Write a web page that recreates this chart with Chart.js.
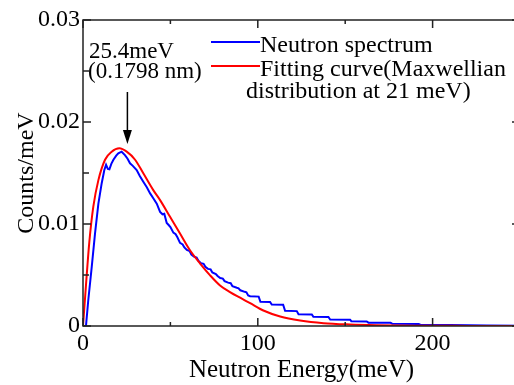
<!DOCTYPE html>
<html>
<head>
<meta charset="utf-8">
<script src="https://cdn.jsdelivr.net/npm/chart.js@4"></script>
<style>
  html, body { margin: 0; padding: 0; background: #fff; overflow: hidden; }
  #wrap { width: 523px; height: 385px; }
  #warm { position: absolute; left: -999px; top: 0; font: 24px "Liberation Serif"; }
</style>
</head>
<body>
<div id="warm">Neutron 0.01</div>
<div id="wrap"><canvas id="chart" width="523" height="385"></canvas></div>
<script>
// Neutron spectrum (energy in meV, counts/meV)
const spectrumE = [0, 1.7, 3, 5, 6.9, 8.8, 10.7, 12.2, 13.2, 14.2, 15.1, 16.2, 17.4, 19, 20.2, 22.1, 24, 25.5,
  26.9, 28.5, 30.7, 32.5, 34.5, 36.5, 38.4, 40.3, 42.2, 44.1, 45.5, 46.5, 47.9, 49, 50, 51.7, 53, 54, 55.5,
  57, 58, 59.4, 61, 62, 63.5, 65, 66, 67.5, 69, 70, 71.5, 73, 74, 76, 77, 78.5, 80, 81, 83, 84.5, 85.5, 88,
  89, 90, 92.5, 93.5, 94.5, 95.6, 100.5, 101.5, 107, 108, 114.5, 115.6, 122.3, 123.3, 130.9, 131.8, 140.4,
  141.4, 152.8, 153.5, 162.3, 163.3, 176, 177, 192, 193, 210, 231, 250];
const spectrumCounts = [0, 0, 0.0025, 0.0058, 0.0091, 0.0120, 0.0140, 0.0153, 0.0158, 0.0154, 0.01536, 0.0159,
  0.0163, 0.0167, 0.01693, 0.01709, 0.01676, 0.0164, 0.01595, 0.0157, 0.01529, 0.0147, 0.01414, 0.0136,
  0.0130, 0.0125, 0.0120, 0.01119, 0.01095, 0.0110, 0.0101, 0.0099, 0.0097, 0.00915, 0.0090, 0.0087, 0.00815,
  0.0080, 0.0077, 0.00745, 0.00735, 0.0070, 0.0068, 0.0067, 0.0064, 0.00615, 0.0061, 0.0058, 0.0056, 0.00555,
  0.00525, 0.0051, 0.0049, 0.0047, 0.00465, 0.0044, 0.00425, 0.0042, 0.0039, 0.00375, 0.0037, 0.0035, 0.00335,
  0.0033, 0.0030, 0.00292, 0.00288, 0.00238, 0.00236, 0.0021, 0.00208, 0.0015, 0.00146, 0.00116, 0.00113,
  0.0009, 0.00088, 0.00064, 0.00062, 0.00047, 0.00045, 0.00033, 0.00031, 0.00021, 0.0002, 0.00012, 0.00009,
  0.00006, 0.00003];

// Maxwellian fitting curve
const fitE = [0, 1.7, 3.6, 5.9, 8.8, 12.6, 16.4, 20.8, 25, 29.8, 34.5, 40.2, 44.1, 49.8, 55.5, 61.2, 67,
  72.7, 78.4, 84.1, 89.9, 95.6, 103.2, 112.8, 124.2, 137.6, 152.8, 168, 190, 220, 250];
const fitCounts = [0, 0.0040, 0.0082, 0.0117, 0.0143, 0.0163, 0.01709, 0.01742, 0.01709, 0.0163, 0.01497,
  0.01332, 0.01234, 0.0107, 0.00906, 0.00742, 0.00612, 0.00497, 0.00398, 0.00333, 0.00277, 0.00224, 0.00152,
  0.00093, 0.00054, 0.00028, 0.00015, 0.00008, 0.00003, 0.00001, 0];

const xTickLabels = ['0', '100', '200'];
const yTickLabels = ['0', '0.01', '0.02', '0.03'];
const seriesNames = ['Neutron spectrum', 'Fitting curve(Maxwellian', 'distribution at 21 meV)'];
const peakEnergy = 25.4;
const peakNote = ['25.4meV', '(0.1798 nm)'];

const FONT = '"Liberation Serif", "DejaVu Serif", serif';
Chart.defaults.font.family = FONT;
Chart.defaults.color = '#000';

const toPoints = (xs, ys) => xs.map((x, i) => ({ x: x, y: ys[i] }));

// inward ticks + frame, like the original plotting program
const frameTicks = {
  id: 'frameTicks',
  afterDraw(chart) {
    const { ctx, chartArea: a, scales: { x, y } } = chart;
    ctx.save();
    ctx.strokeStyle = '#222';
    ctx.lineWidth = 1.5;
    ctx.strokeRect(a.left, a.top, a.right - a.left, a.bottom - a.top);
    ctx.beginPath();
    x.ticks.forEach(t => {
      const px = x.getPixelForValue(t.value);
      const len = t.value % 100 === 0 ? 8 : 4;
      ctx.moveTo(px, a.bottom); ctx.lineTo(px, a.bottom - len);
      ctx.moveTo(px, a.top); ctx.lineTo(px, a.top + len);
    });
    y.ticks.forEach(t => {
      const py = y.getPixelForValue(t.value);
      const len = Math.round(t.value * 1000) % 10 === 0 ? 8 : 6;
      ctx.moveTo(a.left, py); ctx.lineTo(a.left + len, py);
      ctx.moveTo(a.right, py); ctx.lineTo(a.right - len, py);
    });
    ctx.stroke();
    ctx.restore();
  }
};

// legend and peak annotation
const notes = {
  id: 'notes',
  afterDraw(chart) {
    const { ctx, scales: { x } } = chart;
    ctx.save();
    ctx.font = '24px ' + FONT;
    ctx.fillStyle = '#000';
    ctx.textBaseline = 'alphabetic';
    ctx.textAlign = 'left';

    ctx.lineWidth = 2;
    ctx.strokeStyle = '#0000ff';
    ctx.beginPath(); ctx.moveTo(211, 42); ctx.lineTo(260, 42); ctx.stroke();
    ctx.strokeStyle = '#ff0000';
    ctx.beginPath(); ctx.moveTo(211, 66); ctx.lineTo(260, 66); ctx.stroke();
    ctx.fillText(seriesNames[0], 260, 52);
    ctx.fillText(seriesNames[1], 260, 76);
    ctx.fillText(seriesNames[2], 246, 98);

    ctx.font = '23px ' + FONT;
    ctx.fillText(peakNote[0], 89, 58);
    ctx.fillText(peakNote[1], 88, 78);

    const ax = x.getPixelForValue(peakEnergy);
    ctx.strokeStyle = '#000';
    ctx.lineWidth = 1.5;
    ctx.beginPath(); ctx.moveTo(ax, 92); ctx.lineTo(ax, 132); ctx.stroke();
    ctx.beginPath();
    ctx.moveTo(ax - 4.5, 130); ctx.lineTo(ax + 4.5, 130); ctx.lineTo(ax, 144); ctx.closePath();
    ctx.fill();
    ctx.restore();
  }
};

function drawChart() {
  new Chart(document.getElementById('chart'), {
    type: 'line',
    data: {
      datasets: [{
        label: seriesNames[0],
        data: toPoints(spectrumE, spectrumCounts),
        borderColor: '#0000ff',
        borderWidth: 2,
        pointRadius: 0,
        tension: 0,
        order: 1
      }, {
        label: seriesNames[1],
        data: toPoints(fitE, fitCounts),
        borderColor: '#ff0000',
        borderWidth: 2,
        pointRadius: 0,
        cubicInterpolationMode: 'monotone',
        order: 0
      }]
    },
    options: {
      responsive: false,
      devicePixelRatio: 1,
      animation: false,
      layout: { padding: { top: 20, right: 3, left: 0, bottom: 0 } },
      scales: {
        x: {
          type: 'linear',
          min: 0,
          max: 250,
          afterFit: (s) => { s.height = 59; },
          grid: { display: false, drawTicks: false },
          border: { display: false },
          ticks: {
            stepSize: 50,
            autoSkip: false,
            maxRotation: 0,
            padding: 3,
            font: { size: 24 },
            callback: (v) => (v % 100 === 0 ? xTickLabels[v / 100] : '')
          },
          title: {
            display: true,
            text: 'Neutron Energy(meV)',
            font: { size: 25 },
            padding: { top: 0, bottom: 0 }
          }
        },
        y: {
          min: 0,
          max: 0.03,
          afterFit: (s) => { s.width = 83; },
          grid: { display: false, drawTicks: false },
          border: { display: false },
          ticks: {
            stepSize: 0.005,
            autoSkip: false,
            padding: 3,
            font: { size: 24 },
            callback: (v) => {
              const k = Math.round(v * 1000);
              return k % 10 === 0 ? yTickLabels[k / 10] : '';
            }
          },
          title: {
            display: true,
            text: 'Counts/meV',
            font: { size: 24 },
            padding: { top: 12, bottom: 0 }
          }
        }
      },
      plugins: {
        legend: { display: false },
        tooltip: { enabled: false }
      }
    },
    plugins: [frameTicks, notes]
  });
}

// make sure the serif face is ready before the canvas text is drawn
document.fonts.load('24px "Liberation Serif"').then(drawChart, drawChart);
</script>
</body>
</html>
